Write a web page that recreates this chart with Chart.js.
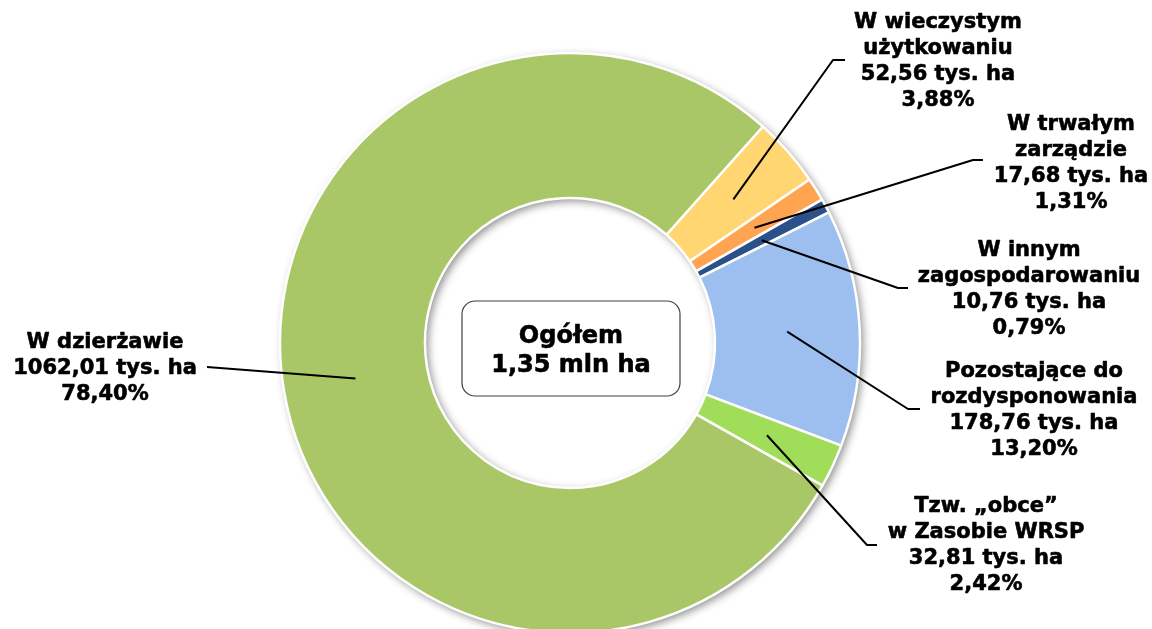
<!DOCTYPE html>
<html><head><meta charset="utf-8">
<script src="https://cdn.jsdelivr.net/npm/chart.js@4.4.1/dist/chart.umd.min.js"></script>
<style>html,body{margin:0;padding:0;background:#fff;overflow:hidden}canvas{display:block}</style>
</head><body>
<canvas id="c" width="1152" height="629"></canvas>
<script>
// ---- data ----
const categories = ["W wieczystym użytkowaniu","W trwałym zarządzie","W innym zagospodarowaniu","Pozostające do rozdysponowania","Tzw. „obce” w Zasobie WRSP","W dzierżawie"];
const categoryLines = [["W wieczystym","użytkowaniu"],["W trwałym","zarządzie"],["W innym","zagospodarowaniu"],["Pozostające do","rozdysponowania"],["Tzw. „obce”","w Zasobie WRSP"],["W dzierżawie"]];
const areaThousandHa = [52.56, 17.68, 10.76, 178.76, 32.81, 1062.01];
const valueLabels = ["52,56 tys. ha","17,68 tys. ha","10,76 tys. ha","178,76 tys. ha","32,81 tys. ha","1062,01 tys. ha"];
const percentLabels = ["3,88%","1,31%","0,79%","13,20%","2,42%","78,40%"];
const totalLines = ["Ogółem","1,35 mln ha"];

// ---- styling / layout ----
const colors = ["#FFD671","#FFA552","#2A5189","#9CBFEF","#A0DE5A","#A9C766"];
const labelLayout = [
  {x:938,  y:23,  step:25.7, elbow:[833,60],  end:[845,60]},
  {x:1071, y:125, step:25.7, elbow:[973,160], end:[983,160]},
  {x:1029, y:251, step:25.7, elbow:[898,288], end:[908,288]},
  {x:1034, y:372, step:25.7, elbow:[908,409], end:[920,409]},
  {x:986,  y:507, step:26,   elbow:[867,545], end:[877,545]},
  {x:105,  y:343, step:26,   elbow:null,      end:[207,367]}
];
const FONT = '"DejaVu Sans", Verdana, sans-serif';

function heavyText(ctx, t, x, y){
  ctx.fillText(t, x, y);
  ctx.strokeText(t, x, y);
}

const shadowRing = {
  id:'shadowRing',
  beforeDatasetsDraw(chart){
    const arc = chart.getDatasetMeta(0).data[0];
    if(!arc) return;
    const {x,y,outerRadius,innerRadius} = arc.getProps(['x','y','outerRadius','innerRadius'],true);
    const ctx = chart.ctx;
    ctx.save();
    ctx.shadowColor = 'rgba(0,0,0,0.45)';
    ctx.shadowBlur = 8;
    ctx.shadowOffsetX = 3;
    ctx.shadowOffsetY = 3;
    ctx.beginPath();
    ctx.arc(x,y,outerRadius,0,Math.PI*2,false);
    ctx.arc(x,y,innerRadius,0,Math.PI*2,true);
    ctx.closePath();
    ctx.fillStyle = '#ffffff';
    ctx.fill('evenodd');
    ctx.restore();
  }
};

const labelsPlugin = {
  id:'labelsPlugin',
  afterDatasetsDraw(chart){
    const ctx = chart.ctx;
    const meta = chart.getDatasetMeta(0);
    ctx.save();
    // leader lines
    ctx.strokeStyle = '#000';
    ctx.lineWidth = 2;
    ctx.lineJoin = 'round';
    meta.data.forEach((arc,i)=>{
      const p = arc.getCenterPoint();
      const L = labelLayout[i];
      ctx.beginPath();
      ctx.moveTo(p.x,p.y);
      if(L.elbow){ ctx.lineTo(L.elbow[0],L.elbow[1]); }
      ctx.lineTo(L.end[0],L.end[1]);
      ctx.stroke();
    });
    // labels
    ctx.fillStyle = '#000';
    ctx.strokeStyle = '#000';
    ctx.lineWidth = 0.6;
    ctx.textAlign = 'center';
    ctx.textBaseline = 'middle';
    ctx.font = 'bold 21px ' + FONT;
    categoryLines.forEach((lines,i)=>{
      const L = labelLayout[i];
      const all = lines.concat([valueLabels[i], percentLabels[i]]);
      all.forEach((t,k)=>heavyText(ctx, t, L.x, L.y + k*L.step));
    });
    // centre box
    const a0 = meta.data[0];
    const cx = a0.x, cy = a0.y;
    const bx = cx-108, by = cy-42, bw = 218, bh = 95, r = 13;
    ctx.beginPath();
    ctx.roundRect(bx,by,bw,bh,r);
    ctx.fillStyle = '#fff';
    ctx.fill();
    ctx.strokeStyle = '#404040';
    ctx.lineWidth = 1.2;
    ctx.stroke();
    ctx.fillStyle = '#000';
    ctx.strokeStyle = '#000';
    ctx.lineWidth = 0.6;
    ctx.font = 'bold 24px ' + FONT;
    heavyText(ctx, totalLines[0], cx+1, cy-6);
    heavyText(ctx, totalLines[1], cx+1, cy+23);
    ctx.restore();
  }
};

new Chart(document.getElementById('c'), {
  type:'doughnut',
  data:{
    labels: categories,
    datasets:[{
      data: areaThousandHa,
      backgroundColor: colors,
      borderColor:'#ffffff',
      borderWidth:2.5
    }]
  },
  options:{
    responsive:false,
    animation:false,
    devicePixelRatio:1,
    rotation:41.7,
    cutout:'50%',
    radius:290,
    layout:{padding:{left:280,right:292,top:57,bottom:0}},
    plugins:{legend:{display:false},tooltip:{enabled:false},title:{display:false}},
    events:[]
  },
  plugins:[shadowRing,labelsPlugin]
});
</script>
</body></html>
